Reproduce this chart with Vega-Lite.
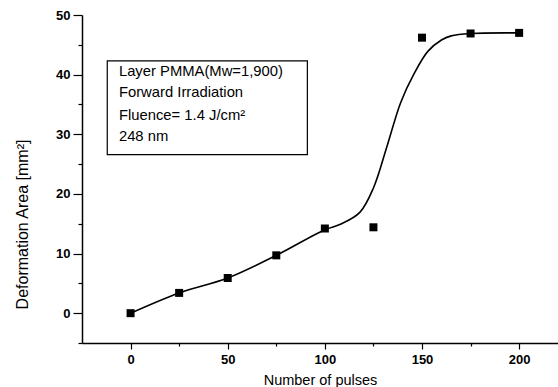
{
  "$schema": "https://vega.github.io/schema/vega-lite/v6.json",
  "width": 476,
  "height": 328,
  "autosize": "none",
  "padding": {"left": 82, "top": 15, "right": 0, "bottom": 44},
  "background": "white",
  "config": {
    "view": {"stroke": null},
    "font": "Liberation Sans",
    "axis": {"grid": false, "domainColor": "black", "tickColor": "black", "labelColor": "black", "titleColor": "black", "domainWidth": 1.5, "tickWidth": 1.2, "labelFont": "Liberation Sans", "titleFont": "Liberation Sans", "labelFontSize": 13, "labelFontWeight": "bold", "titleFontSize": 14.5, "titleFontWeight": "normal", "labelOverlap": false}
  },
  "datasets": {
    "pts": [
      {"pulses": 0, "area": 0},
      {"pulses": 25, "area": 3.4},
      {"pulses": 50, "area": 5.9},
      {"pulses": 75, "area": 9.7},
      {"pulses": 100, "area": 14.2},
      {"pulses": 125, "area": 14.4},
      {"pulses": 150, "area": 46.2},
      {"pulses": 175, "area": 46.9},
      {"pulses": 200, "area": 47.0}
    ],
    "curve": [
      {"pulses": 0, "area": 0},
      {"pulses": 25, "area": 3.4},
      {"pulses": 50, "area": 5.9},
      {"pulses": 75, "area": 9.7},
      {"pulses": 100, "area": 14.0},
      {"pulses": 108, "area": 14.9},
      {"pulses": 118, "area": 16.9},
      {"pulses": 125, "area": 21.0},
      {"pulses": 132, "area": 28.0},
      {"pulses": 139, "area": 35.3},
      {"pulses": 146, "area": 40.2},
      {"pulses": 153, "area": 43.9},
      {"pulses": 160, "area": 45.8},
      {"pulses": 165, "area": 46.5},
      {"pulses": 175, "area": 46.9},
      {"pulses": 200, "area": 47.0}
    ],
    "box": [{"x1": -12, "x2": 91, "y1": 42.3, "y2": 26.6}],
    "notes": [
      {"x": -6, "y": 40.4, "label": "Layer PMMA(Mw=1,900)"},
      {"x": -6, "y": 36.9, "label": "Forward Irradiation"},
      {"x": -6, "y": 33.1, "label": "Fluence= 1.4 J/cm²"},
      {"x": -6, "y": 29.6, "label": "248 nm"}
    ]
  },
  "resolve": {"axis": {"y": "independent"}},
  "layer": [
    {
      "data": {"name": "curve"},
      "mark": {"type": "line", "interpolate": "catmull-rom", "color": "black", "strokeWidth": 1.6},
      "encoding": {
        "x": {"field": "pulses", "type": "quantitative", "scale": {"domain": [-25, 220], "nice": false, "zero": false},
          "axis": {"title": "Number of pulses", "values": [0, 25, 50, 75, 100, 125, 150, 175, 200],
            "labelExpr": "datum.value % 50 === 0 ? datum.label : ''",
            "tickSize": {"condition": {"test": "datum.value % 50 === 0", "value": 6}, "value": 3},
            "labelPadding": 4, "titlePadding": 7}},
        "y": {"field": "area", "type": "quantitative", "scale": {"domain": [-5, 50], "nice": false, "zero": false},
          "axis": {"orient": "left", "title": "Deformation Area [mm²]", "titleFontSize": 16, "values": [0, 10, 20, 30, 40, 50],
            "tickSize": 9, "labelPadding": 3, "titleX": -52, "titleY": 209}}
      }
    },
    {
      "data": {"name": "pts"},
      "mark": {"type": "point", "shape": "square", "filled": true, "color": "black", "size": 64, "opacity": 1},
      "encoding": {
        "x": {"field": "pulses", "type": "quantitative"},
        "y": {"field": "area", "type": "quantitative",
          "axis": {"orient": "left", "title": null, "values": [-5, 5, 15, 25, 35, 45], "labels": false, "tickSize": 4, "domain": false}}
      }
    },
    {
      "data": {"name": "box"},
      "mark": {"type": "rect", "fill": "white", "stroke": "black", "strokeWidth": 1.2},
      "encoding": {
        "x": {"field": "x1", "type": "quantitative"},
        "x2": {"field": "x2"},
        "y": {"field": "y1", "type": "quantitative", "axis": null},
        "y2": {"field": "y2"}
      }
    },
    {
      "data": {"name": "notes"},
      "mark": {"type": "text", "align": "left", "baseline": "middle", "fontSize": 14.8, "font": "Liberation Sans", "color": "black"},
      "encoding": {
        "x": {"field": "x", "type": "quantitative"},
        "y": {"field": "y", "type": "quantitative", "axis": null},
        "text": {"field": "label"}
      }
    }
  ]
}
